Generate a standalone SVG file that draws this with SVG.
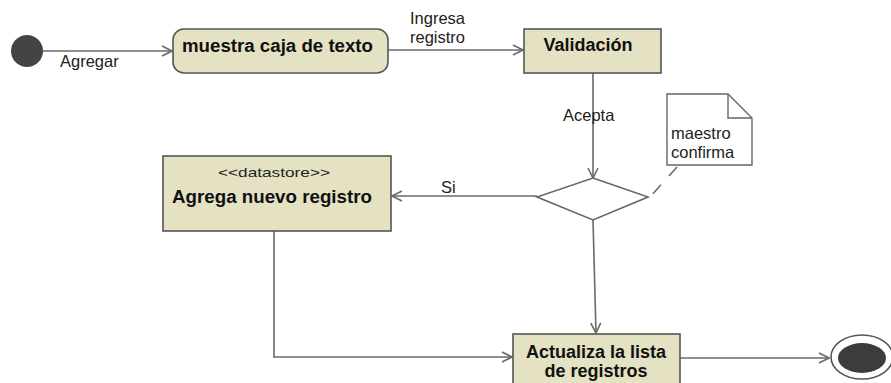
<svg xmlns="http://www.w3.org/2000/svg" width="891" height="383" viewBox="0 0 891 383">
<defs>
<style>
.box{fill:#e4e2c2;stroke:#555;stroke-width:1.6}
.ln{fill:none;stroke:#6a6a6a;stroke-width:1.6}
.lbl{font-family:"Liberation Sans",Arial,sans-serif;font-size:16.5px;fill:#222}
.bt{font-family:"Liberation Sans",Arial,sans-serif;font-size:18px;font-weight:bold;fill:#111}
.st{font-family:"Liberation Sans",Arial,sans-serif;font-size:13.5px;fill:#222}
</style>
<marker id="arr" viewBox="0 0 12 12" refX="11" refY="6" markerWidth="12" markerHeight="12" markerUnits="userSpaceOnUse" orient="auto">
<path d="M1,1 L11,6 L1,11" fill="none" stroke="#6a6a6a" stroke-width="1.6"/>
</marker>
</defs>
<rect width="891" height="383" fill="#fff"/>
<g id="connectors">
<line class="ln" x1="43" y1="51" x2="172" y2="51" marker-end="url(#arr)"/>
<line class="ln" x1="388" y1="50" x2="523" y2="50" marker-end="url(#arr)"/>
<line class="ln" x1="593" y1="73" x2="593" y2="178" marker-end="url(#arr)"/>
<line class="ln" x1="537" y1="196" x2="392" y2="196" marker-end="url(#arr)"/>
<line class="ln" x1="593" y1="220" x2="596" y2="333" marker-end="url(#arr)"/>
<polyline class="ln" points="274,231 274,357 512,357" marker-end="url(#arr)"/>
<line class="ln" x1="680" y1="358" x2="829" y2="358" marker-end="url(#arr)"/>
<line class="ln" x1="677" y1="167" x2="650" y2="197" stroke-dasharray="12,12"/>
<text class="lbl" x="60" y="67">Agregar</text>
<text class="lbl" x="410" y="24">Ingresa</text>
<text class="lbl" x="410" y="43">registro</text>
<text class="lbl" x="563" y="121">Acepta</text>
<text class="lbl" x="441" y="193">Si</text>
</g>
<g id="start"><circle cx="27" cy="51" r="16" fill="#444"/></g>
<g id="muestra">
<rect class="box" x="173" y="29" width="215" height="44" rx="11"/>
<text class="bt" x="182" y="52" textLength="191" lengthAdjust="spacingAndGlyphs">muestra caja de texto</text>
</g>
<g id="validacion">
<rect class="box" x="524" y="29" width="137" height="44"/>
<text class="bt" x="588" y="51" text-anchor="middle">Validación</text>
</g>
<g id="decision">
<polygon points="593,178 648,197 593,220 537,197" fill="#fff" stroke="#666" stroke-width="1.6"/>
</g>
<g id="nota">
<path d="M667,94 L728,94 L752,118 L752,165 L667,165 Z" fill="#fff" stroke="#666" stroke-width="1.4"/>
<path d="M728,94 L728,118 L752,118" fill="none" stroke="#666" stroke-width="1.4"/>
<text class="lbl" x="671" y="139">maestro</text>
<text class="lbl" x="671" y="158">confirma</text>
</g>
<g id="agrega">
<rect class="box" x="163" y="156" width="228" height="75"/>
<text class="st" x="274" y="177" text-anchor="middle" textLength="112" lengthAdjust="spacingAndGlyphs">&lt;&lt;datastore&gt;&gt;</text>
<text class="bt" x="172" y="203" textLength="200" lengthAdjust="spacingAndGlyphs">Agrega nuevo registro</text>
</g>
<g id="actualiza">
<rect class="box" x="513" y="334" width="167" height="70"/>
<text class="bt" x="596" y="358" text-anchor="middle">Actualiza la lista</text>
<text class="bt" x="596" y="377" text-anchor="middle">de registros</text>
</g>
<g id="fin">
<ellipse cx="862" cy="357" rx="31" ry="22" fill="#fff" stroke="#555" stroke-width="1.6"/>
<ellipse cx="862" cy="358" rx="24" ry="15" fill="#3c3c3c"/>
</g>
</svg>
